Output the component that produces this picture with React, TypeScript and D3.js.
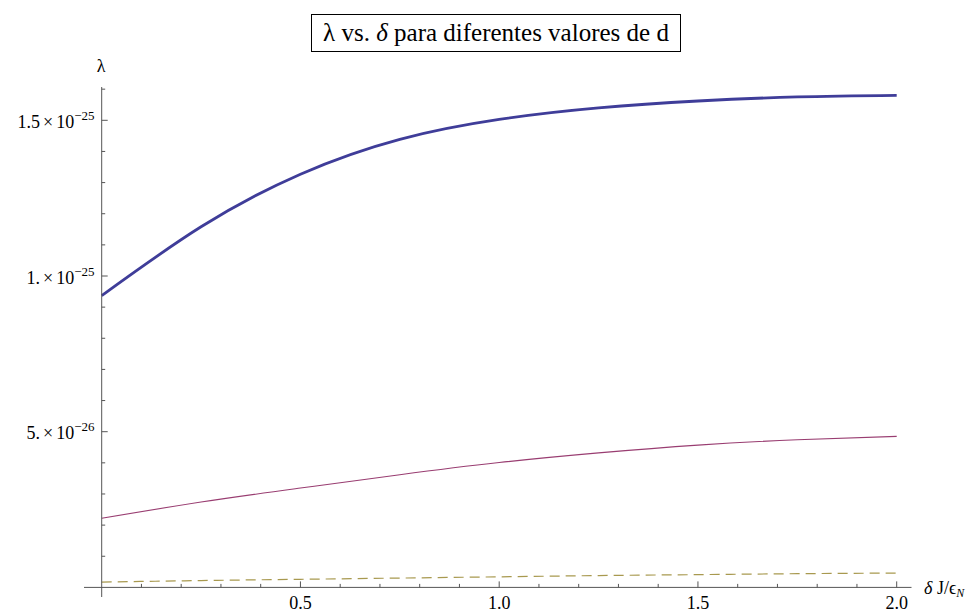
import React from "react";
import * as d3 from "d3";

const deltas = [0, 0.25, 0.5, 0.75, 1.0, 1.25, 1.5, 1.75, 2.0];
const lambdaBlue = [9.37e-26, 11.58e-26, 13.27e-26, 14.39e-26, 15.03e-26, 15.4e-26, 15.62e-26, 15.75e-26, 15.8e-26];
const lambdaPurple = [2.22e-26, 2.74e-26, 3.19e-26, 3.62e-26, 4.01e-26, 4.32e-26, 4.57e-26, 4.74e-26, 4.85e-26];
const lambdaGold = [0.17e-26, 0.22e-26, 0.26e-26, 0.3e-26, 0.34e-26, 0.38e-26, 0.41e-26, 0.44e-26, 0.46e-26];

const xMajor = [0.5, 1.0, 1.5, 2.0];
const xMajorLabels = ["0.5", "1.0", "1.5", "2.0"];
const yMajor = [5e-26, 1e-25, 1.5e-25];
const yMajorMant = ["5.", "1.", "1.5"];
const yMajorExp = ["\u221226", "\u221225", "\u221225"];

const W = 974;
const H = 613;
const FONT = "Liberation Serif";

export default function App() {
  const x = d3.scaleLinear().domain([0, 2]).range([101.7, 896.7]);
  const y = d3.scaleLinear().domain([0, 5e-26]).range([587.4, 431.7]);

  const xMinor = d3.range(1, 21).map((i) => i / 10).filter((v) => !xMajor.some((m) => Math.abs(m - v) < 1e-9));
  const yMinor = d3.range(1, 17).map((i) => i * 1e-26).filter((v) => !yMajor.some((m) => Math.abs(m - v) < 1e-30));

  const line = d3
    .line<number>()
    .x((_, i) => x(deltas[i]))
    .y((d) => y(d))
    .curve(d3.curveNatural);

  const axisColor = "#555";
  const x0 = x(0);
  const y0 = y(0);

  return (
    <svg width={W} height={H} style={{ position: "absolute", left: 0, top: 0, background: "#fff" }} fontFamily={FONT}>
      {/* title */}
      <rect x={311.5} y={14.5} width={369} height={37} fill="#fff" stroke="#000" strokeWidth={1} />
      <text x={496} y={41} textAnchor="middle" fontSize={25} fill="#000">
        <tspan>λ vs. </tspan>
        <tspan fontStyle="italic">δ</tspan>
        <tspan> para diferentes valores de d</tspan>
      </text>

      {/* curves */}
      <path d={line(lambdaGold) || ""} fill="none" stroke="#a8994f" strokeWidth={1.2} strokeDasharray="10,6" />
      <path d={line(lambdaPurple) || ""} fill="none" stroke="#993D71" strokeWidth={1.1} />
      <path d={line(lambdaBlue) || ""} fill="none" stroke="#3F3D99" strokeWidth={2.8} />

      {/* axes */}
      <line x1={84} x2={911.5} y1={y0} y2={y0} stroke={axisColor} strokeWidth={1} />
      <line x1={x0} x2={x0} y1={87} y2={597} stroke={axisColor} strokeWidth={1} />

      {/* x ticks */}
      {xMajor.map((v) => (
        <line key={"xM" + v} x1={x(v)} x2={x(v)} y1={y0} y2={y0 - 6} stroke={axisColor} strokeWidth={1} />
      ))}
      {xMinor.map((v) => (
        <line key={"xm" + v} x1={x(v)} x2={x(v)} y1={y0} y2={y0 - 3.5} stroke={axisColor} strokeWidth={1} />
      ))}
      {xMajor.map((v, i) => (
        <text key={"xl" + v} x={x(v)} y={609} textAnchor="middle" fontSize={18} fill="#000">
          {xMajorLabels[i]}
        </text>
      ))}

      {/* y ticks */}
      {yMajor.map((v) => (
        <line key={"yM" + v} x1={x0} x2={x0 + 6} y1={y(v)} y2={y(v)} stroke={axisColor} strokeWidth={1} />
      ))}
      {yMinor.map((v) => (
        <line key={"ym" + v} x1={x0} x2={x0 + 3.5} y1={y(v)} y2={y(v)} stroke={axisColor} strokeWidth={1} />
      ))}
      {yMajor.map((v, i) => (
        <text key={"yl" + v} x={94.5} y={y(v) + 7.5} textAnchor="end" fontSize={18} fill="#000">
          <tspan>{yMajorMant[i]}</tspan>
          <tspan dx={3}>{"\u00d7"}</tspan>
          <tspan dx={3}>10</tspan>
          <tspan fontSize={13} dy={-8}>
            {yMajorExp[i]}
          </tspan>
        </text>
      ))}

      {/* axis labels */}
      <text x={101} y={72} textAnchor="middle" fontSize={18} fill="#000">
        λ
      </text>
      <text x={924} y={594} fontSize={18} fill="#000">
        <tspan fontStyle="italic">δ</tspan>
        <tspan> J/ϵ</tspan>
        <tspan fontSize={12} fontStyle="italic" dy={3}>
          N
        </tspan>
      </text>
    </svg>
  );
}
